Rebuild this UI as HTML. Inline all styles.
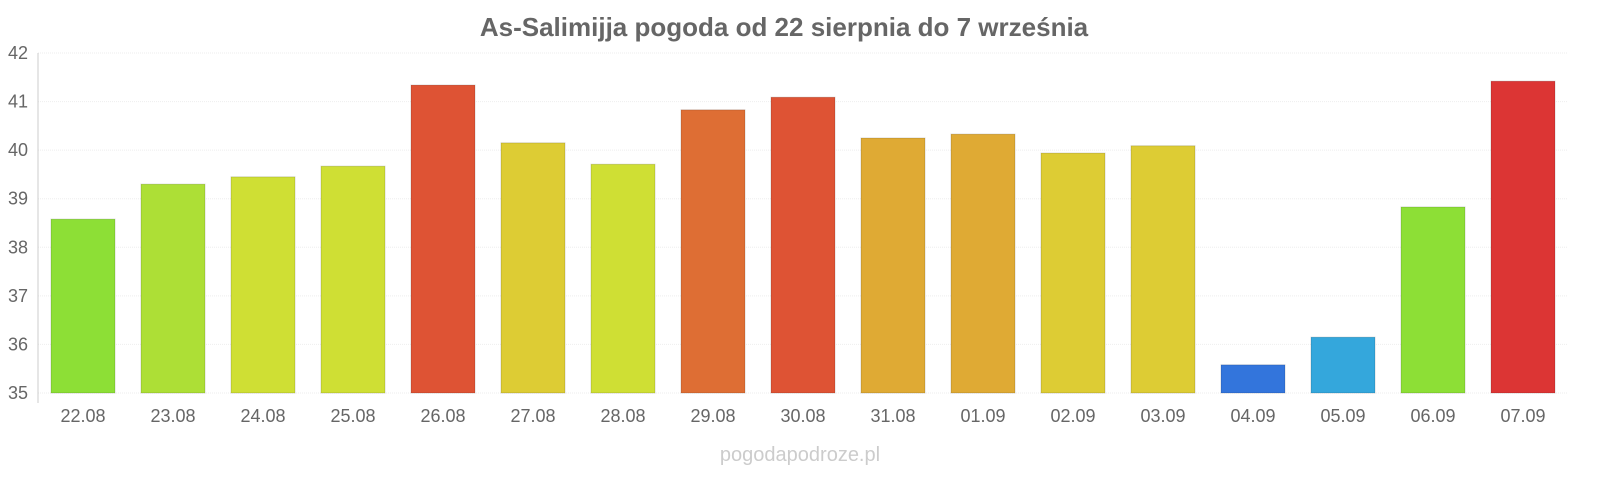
<!DOCTYPE html>
<html><head><meta charset="utf-8">
<style>
body{margin:0;background:#fff;font-family:"Liberation Sans",sans-serif;}
svg text{font-family:"Liberation Sans",sans-serif;}
</style></head>
<body>
<svg id="chart" width="1600" height="480" xmlns="http://www.w3.org/2000/svg">
<text x="784" y="36" text-anchor="middle" font-size="26" font-weight="bold" fill="#666">As-Salimijja pogoda od 22 sierpnia do 7 września</text>
<g id="grid"></g>
<g id="bars"></g>
<g id="ylabels"></g>
<g id="xlabels"></g>
<line x1="38" y1="53" x2="38" y2="403" stroke="#ccc" stroke-width="1"/>
<text x="800" y="461" text-anchor="middle" font-size="20" fill="#ccc">pogodapodroze.pl</text>
</svg>
<script>
const categories=["22.08","23.08","24.08","25.08","26.08","27.08","28.08","29.08","30.08","31.08","01.09","02.09","03.09","04.09","05.09","06.09","07.09"];
const values=[38.58,39.30,39.45,39.67,41.34,40.15,39.71,40.83,41.09,40.25,40.33,39.94,40.09,35.58,36.15,38.83,41.42];
const colors=["#8ddf36","#addf36","#cfdf34","#cfdf34","#de5334","#ddcc34","#cfdf34","#de6e34","#de5334","#dfaa34","#dfaa34","#ddcc34","#ddcc34","#3375dc","#34a7dc","#8ddf36","#dc3534"];
const yTicks=[35,36,37,38,39,40,41,42];
const NS="http://www.w3.org/2000/svg";
const x0=38,x1=1568,yMin=35,yMax=42,py0=393,py1=53;
const slot=(x1-x0)/categories.length;
function y(v){return py0-(v-yMin)/(yMax-yMin)*(py0-py1);}
function xc(i){return x0+slot*(i+0.5);}
const grid=document.getElementById('grid'),bars=document.getElementById('bars'),yl=document.getElementById('ylabels'),xl=document.getElementById('xlabels');
yTicks.forEach(t=>{
 const l=document.createElementNS(NS,'line');
 
 
 l.setAttribute('x1',x0);l.setAttribute('x2',x1);l.setAttribute('y1',y(t));l.setAttribute('y2',y(t));
 l.setAttribute('stroke','#eee');l.setAttribute('stroke-dasharray','1,1');
 grid.appendChild(l);
 const tx=document.createElementNS(NS,'text');
 
 
 tx.setAttribute('x',28);tx.setAttribute('y',y(t)+6);tx.setAttribute('text-anchor','end');
 tx.setAttribute('font-size','18');tx.setAttribute('fill','#666');tx.textContent=t;
 yl.appendChild(tx);
});
categories.forEach((c,i)=>{
 const r=document.createElementNS(NS,'rect');
 
 
 const w=64;
 r.setAttribute('x',xc(i)-w/2);r.setAttribute('width',w);
 r.setAttribute('y',y(values[i]));r.setAttribute('height',py0-y(values[i]));
 r.setAttribute('fill',colors[i]);r.setAttribute('stroke','rgba(0,0,0,0.15)');
 bars.appendChild(r);
 const tx=document.createElementNS(NS,'text');
 
 
 tx.setAttribute('x',xc(i));tx.setAttribute('y',422);tx.setAttribute('text-anchor','middle');
 tx.setAttribute('font-size','18');tx.setAttribute('fill','#666');tx.textContent=c;
 xl.appendChild(tx);
});
</script>
</body></html>
